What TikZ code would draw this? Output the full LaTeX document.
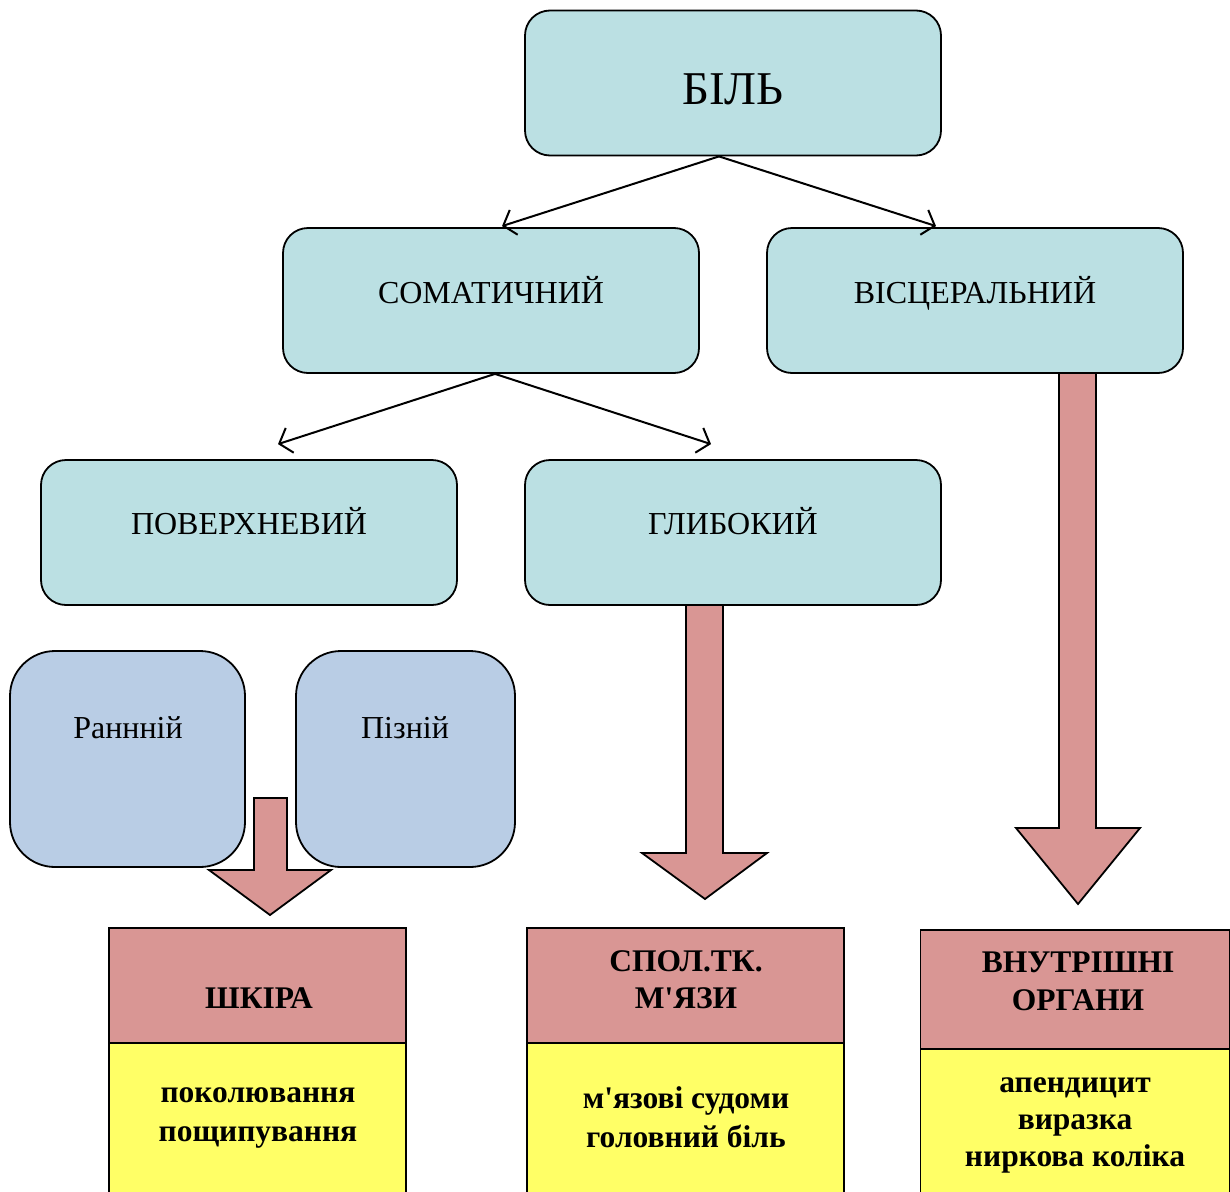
\documentclass[tikz,border=0pt]{standalone}
\usepackage{fontspec}
\setmainfont{Liberation Serif}
\usetikzlibrary{arrows.meta,calc}
\definecolor{tealfill}{HTML}{BBE0E3}
\definecolor{bluefill}{HTML}{B9CDE5}
\definecolor{pinkfill}{HTML}{D99694}
\definecolor{yellowfill}{HTML}{FFFF66}
\begin{document}
\begin{tikzpicture}[x=1pt,y=-1pt,
  tealbox/.style={draw, line width=1.8pt, fill=tealfill, rounded corners=25pt, minimum width=416pt, minimum height=145pt, inner sep=0pt},
  bluebox/.style={draw, line width=1.8pt, fill=bluefill, rounded corners=45pt, minimum height=216pt, inner sep=0pt},
  pinkbox/.style={draw, line width=1.8pt, fill=pinkfill, inner sep=0pt},
  yellowbox/.style={draw, line width=1.8pt, fill=yellowfill, inner sep=0pt},
  blockarrow/.style={draw, line width=1.8pt, fill=pinkfill, line join=miter},
  thinarrow/.style={line width=2pt, -{Straight Barb[length=11pt,width=26pt,line width=2pt]}},
  lbl/.style={anchor=base, inner sep=0pt, font=\fontsize{32}{37}\selectfont},
  blbl/.style={anchor=base, inner sep=0pt, font=\fontsize{31.5}{37}\selectfont\bfseries},
]
\useasboundingbox (0,0) rectangle (1230,1191);

% block arrows (drawn first)
\draw[blockarrow] (254,798) -- (287,798) -- (287,870) -- (331,870) -- (270,915) -- (209,870) -- (254,870) -- cycle;
\draw[blockarrow] (686,605) -- (723,605) -- (723,853) -- (767,853) -- (705,899) -- (642,853) -- (686,853) -- cycle;
\draw[blockarrow] (1059,373) -- (1096,373) -- (1096,828) -- (1140,828) -- (1078,904) -- (1016,828) -- (1059,828) -- cycle;

% teal boxes
\node[tealbox] (bil) at (733,83) {};
\node[tealbox] (soma) at (491,300.5) {};
\node[tealbox] (visc) at (975,300.5) {};
\node[tealbox] (pov) at (249,532.5) {};
\node[tealbox] (glib) at (733,532.5) {};

\node[lbl, font=\fontsize{47}{52}\selectfont] (tbil) at (733,104) {БІЛЬ};
\node[lbl] (tsoma) at (491,303) {СОМАТИЧНИЙ};
\node[lbl] (tvisc) at (975,303) {ВІСЦЕРАЛЬНИЙ};
\node[lbl] (tpov) at (249,534) {ПОВЕРХНЕВИЙ};
\node[lbl] (tglib) at (733,534) {ГЛИБОКИЙ};

% blue boxes
\node[bluebox, minimum width=235pt] (rann) at (127.5,759) {};
\node[bluebox, minimum width=219pt] (pizn) at (405.5,759) {};
\node[lbl] (trann) at (128,738) {Раннній};
\node[lbl] (tpizn) at (405,738) {Пізній};

% thin arrows
\draw[thinarrow] ($(bil.south)+(-14,0)$) -- ($(soma.north)+(11,-1)$);
\draw[thinarrow] ($(bil.south)+(-14,0)$) -- ($(visc.north)+(-39,-1)$);
\draw[thinarrow] ($(soma.south)+(4,0)$) -- ($(pov.north)+(29,-15)$);
\draw[thinarrow] ($(soma.south)+(4,0)$) -- ($(glib.north)+(-22,-15)$);

% bottom boxes
\node[pinkbox, minimum width=297pt, minimum height=115pt] (skin) at (257.5,985.5) {};
\node[yellowbox, minimum width=297pt, minimum height=160pt] (skiny) at (257.5,1123) {};
\node[pinkbox, minimum width=317pt, minimum height=115pt] (musc) at (685.5,985.5) {};
\node[yellowbox, minimum width=317pt, minimum height=160pt] (muscy) at (685.5,1123) {};
\node[pinkbox, minimum width=309pt, minimum height=119pt] (org) at (1075,989.5) {};
\node[yellowbox, minimum width=309pt, minimum height=154pt] (orgy) at (1075,1126) {};

\node[blbl] (t1) at (259,1008) {ШКІРА};
\node[blbl] (t2) at (258,1102) {поколювання};
\node[blbl] (t3) at (258,1141) {пощипування};

\node[blbl] (t4) at (686,971) {СПОЛ.ТК.};
\node[blbl] (t5) at (686,1008) {М\textquotesingle ЯЗИ};
\node[blbl] (t6) at (686,1108) {м\textquotesingle язові судоми};
\node[blbl] (t7) at (686,1147) {головний біль};

\node[blbl] (t8) at (1078,972) {ВНУТРІШНІ};
\node[blbl] (t9) at (1078,1010) {ОРГАНИ};
\node[blbl] (t10) at (1075,1092) {апендицит};
\node[blbl] (t11) at (1075,1129) {виразка};
\node[blbl] (t12) at (1075,1166) {ниркова коліка};
\end{tikzpicture}
\end{document}
